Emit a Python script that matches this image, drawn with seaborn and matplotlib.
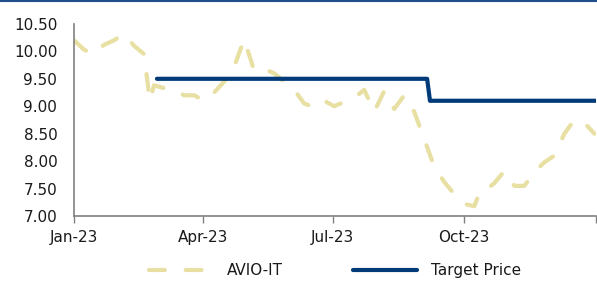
import numpy as np
import pandas as pd
import matplotlib
matplotlib.use("Agg")
import matplotlib.pyplot as plt
from matplotlib.lines import Line2D
import seaborn as sns

# ---- data ----
price_days = [0, 7, 14, 21, 28, 35, 42, 49, 53, 56, 63, 70, 77, 84, 91, 98, 105, 112,
              119, 126, 133, 140, 147, 154, 161, 168, 175, 182, 189, 196, 203, 210,
              217, 224, 231, 238, 245, 252, 259, 266, 273, 280, 284, 287, 294, 301,
              308, 315, 322, 329, 336, 343, 350, 357, 364]
price_vals = [10.20, 10.03, 9.95, 10.12, 10.20, 10.32, 10.10, 9.95, 9.10, 9.38, 9.33,
              9.30, 9.20, 9.20, 9.10, 9.25, 9.45, 9.72, 10.22, 9.65, 9.68, 9.60, 9.45,
              9.30, 9.05, 8.98, 9.10, 9.00, 9.08, 9.15, 9.30, 8.90, 9.28, 8.95, 9.20,
              8.90, 8.40, 7.90, 7.62, 7.40, 7.22, 7.18, 7.45, 7.45, 7.60, 7.82, 7.55,
              7.55, 7.80, 7.98, 8.10, 8.50, 8.75, 8.70, 8.50]
target_dates = ["2023-02-28", "2023-09-05", "2023-09-07", "2024-01-01"]
target_vals = [9.50, 9.50, 9.10, 9.10]
tick_dates = ["2023-01-01", "2023-04-01", "2023-07-01", "2023-10-01", "2024-01-01"]
tick_labels = ["Jan-23", "Apr-23", "Jul-23", "Oct-23", ""]
y_ticks = [7.00, 7.50, 8.00, 8.50, 9.00, 9.50, 10.00, 10.50]

start = pd.Timestamp("2023-01-01")
df_price = pd.DataFrame({"date": [start + pd.Timedelta(days=d) for d in price_days],
                         "value": price_vals})
df_target = pd.DataFrame({"date": pd.to_datetime(target_dates), "value": target_vals})

sns.set_theme(style="white")
plt.rcParams["font.family"] = ["DejaVu Sans"]

fig = plt.figure(figsize=(5.97, 2.81), dpi=100)
ax = fig.add_axes([0.124, 0.231, 0.874, 0.684])

c_price = "#E8DFA2"
c_target = "#003A78"

sns.lineplot(data=df_price, x="date", y="value", ax=ax, color=c_price, linewidth=3,
             label="AVIO-IT")
ax.lines[-1].set_dashes((3.8, 5.0))
ax.lines[-1].set_dash_capstyle("round")
sns.lineplot(data=df_target, x="date", y="value", ax=ax, color=c_target, linewidth=3,
             label="Target Price")
ax.lines[-1].set_solid_capstyle("round")

ax.set_xlim(pd.Timestamp("2023-01-01"), pd.Timestamp("2024-01-01"))
ax.set_ylim(7.0, 10.5)
ax.set_yticks(y_ticks)
ax.set_yticklabels([f"{v:.2f}" for v in y_ticks])
ax.set_xticks(pd.to_datetime(tick_dates))
ax.set_xticklabels(tick_labels)
ax.set_xlabel("")
ax.set_ylabel("")

for s in ["top", "right"]:
    ax.spines[s].set_visible(False)
for s in ["left", "bottom"]:
    ax.spines[s].set_color("#808080")
    ax.spines[s].set_linewidth(1.2)
ax.tick_params(axis="x", which="both", bottom=True, length=5, width=1, color="#808080",
               labelsize=11, pad=5, labelcolor="#1a1a1a")
ax.tick_params(axis="y", left=False, labelsize=11, pad=6, labelcolor="#1a1a1a")

leg = ax.legend(loc="upper center", bbox_to_anchor=(0.5, -0.19), ncol=2, frameon=False,
                fontsize=11, handlelength=4.2, columnspacing=4.6, handletextpad=0.9,
                borderpad=0.2)
for t in leg.get_texts():
    t.set_color("#1a1a1a")

fig.add_artist(Line2D([0, 1], [0.997, 0.997], color="#1F4E8C", linewidth=1.5,
                      transform=fig.transFigure))

fig.savefig("out.png", dpi=100)
